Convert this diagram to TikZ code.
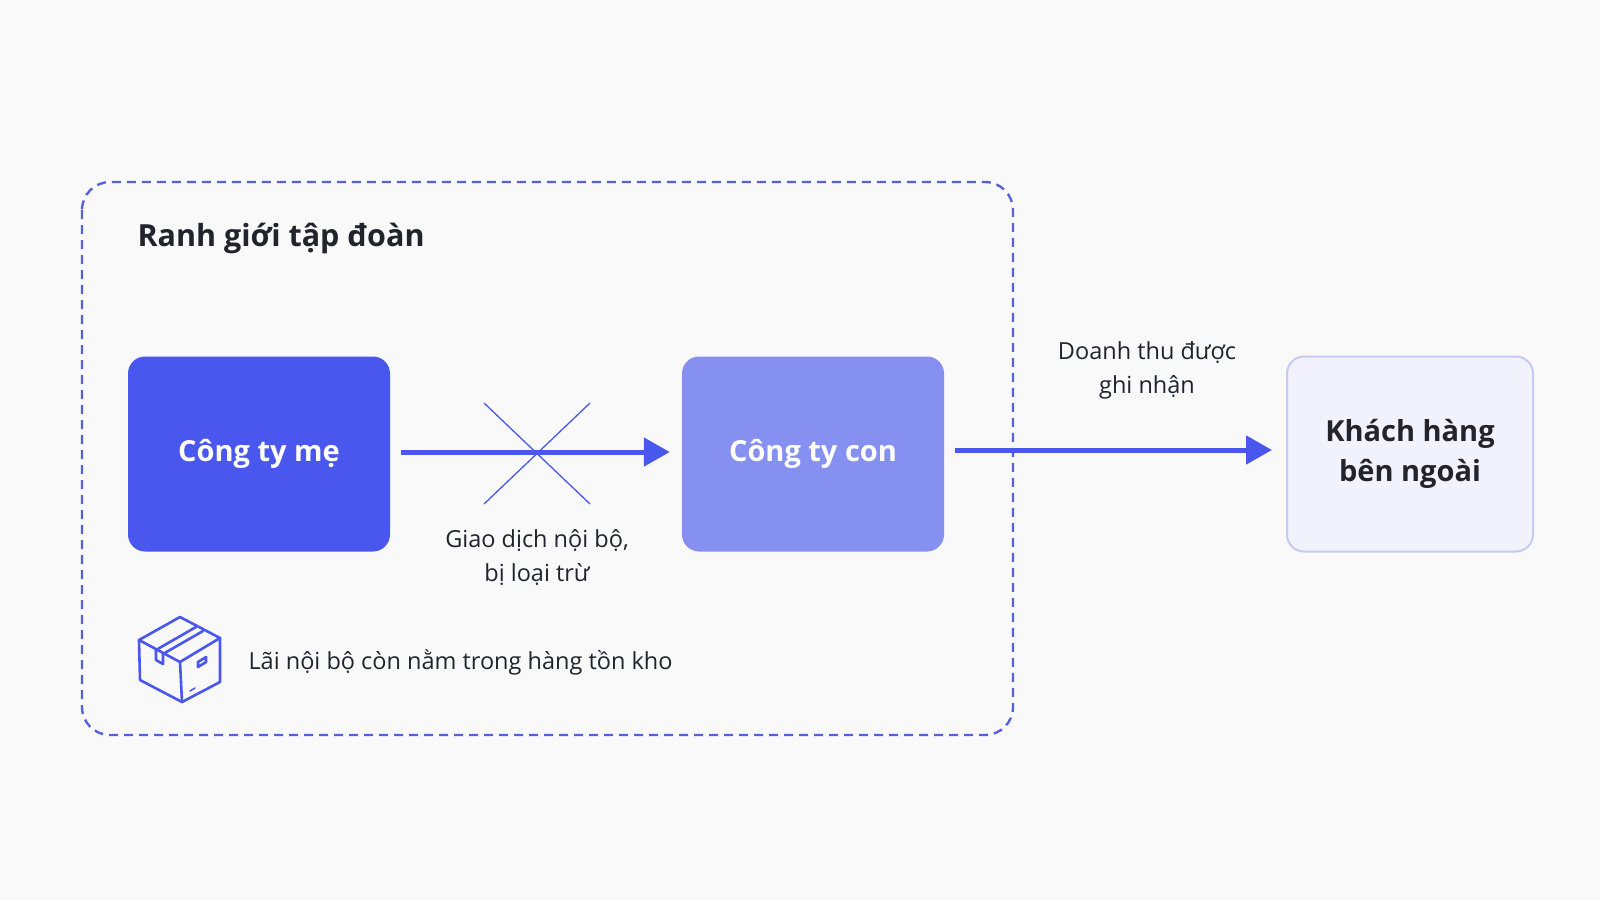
\documentclass[tikz,border=0pt]{standalone}
\usepackage{fontspec}
\setmainfont{Open Sans}
\usetikzlibrary{arrows.meta,calc}
\definecolor{bg}{HTML}{F9F9FA}
\definecolor{acc}{HTML}{4A57EE}
\definecolor{acc2}{HTML}{8590F1}
\definecolor{dashc}{HTML}{5560DC}
\definecolor{ext}{HTML}{F2F2FC}
\definecolor{extb}{HTML}{C6C9F0}
\definecolor{txt}{HTML}{22242C}
\tikzset{
  box/.style={rounded corners=17pt,minimum width=262pt,minimum height=195pt,inner sep=0pt,align=center,font=\fontsize{29}{40}\selectfont\bfseries},
  lbl/.style={font=\fontsize{23.5}{34}\selectfont,text=txt,align=center},
  arr/.style={draw=acc,line width=5pt,-{Triangle[length=26pt,width=28pt]}},
  ic/.style={draw=acc,line width=2.6pt,line join=round,line cap=round}
}
\begin{document}
\begin{tikzpicture}[x=1pt,y=-1pt]
\fill[bg] (0,0) rectangle (1600,900);
\useasboundingbox (0,0) rectangle (1600,900);
\draw[dashc,line width=2.4pt,dash pattern=on 9pt off 6pt,rounded corners=28pt] (82,182) rectangle (1013,735);
\node[anchor=west,font=\fontsize{30.5}{34}\selectfont\bfseries,text=txt] (title) at (134,238) {Ranh giới tập đoàn};
\node[box,fill=acc,text=white] (me) at (259,454) {Công ty mẹ};
\node[box,fill=acc2,text=white] (con) at (813,454) {Công ty con};
\node[box,fill=ext,draw=extb,line width=2pt,minimum width=246pt,text=txt] (kh) at (1410,454) {Khách hàng\\bên ngoài};
\draw[arr] ($(me.east)+(11,-2)$) -- ($(con.west)+(-12,-2)$);
\coordinate (c1) at (484,403); \coordinate (c2) at (590,504);
\coordinate (c3) at (590,403); \coordinate (c4) at (484,504);
\draw[acc,line width=1.3pt] (c1) -- (c2) (c3) -- (c4);
\node[lbl] (l1) at (537,558) {Giao dịch nội bộ,\\bị loại trừ};
\draw[arr] ($(con.east)+(11,-4)$) -- ($(kh.west)+(-14,-4)$);
\node[lbl] (l2) at (1147,370) {Doanh thu được\\ghi nhận};
% icon
\draw[ic] (180,617) -- (139,640) -- (180,662) -- (220,638) -- cycle;
\draw[ic] (139,640) -- (140,680) -- (182,702) -- (220,682) -- (220,638);
\draw[ic] (180,662) -- (182,702);
\draw[ic] (156,650) -- (196,627) (163,654) -- (203,631);
\draw[ic] (156,650) -- (156,660) -- (163,664) -- (163,654);
\draw[ic] (198,662) -- (206,657) -- (206,662) -- (198,667) -- cycle;
\draw[ic,line width=1.5pt] (190,691) -- (195,688);
\node[lbl,anchor=west] (l3) at (245,662) {Lãi nội bộ còn nằm trong hàng tồn kho};
\end{tikzpicture}
\end{document}
